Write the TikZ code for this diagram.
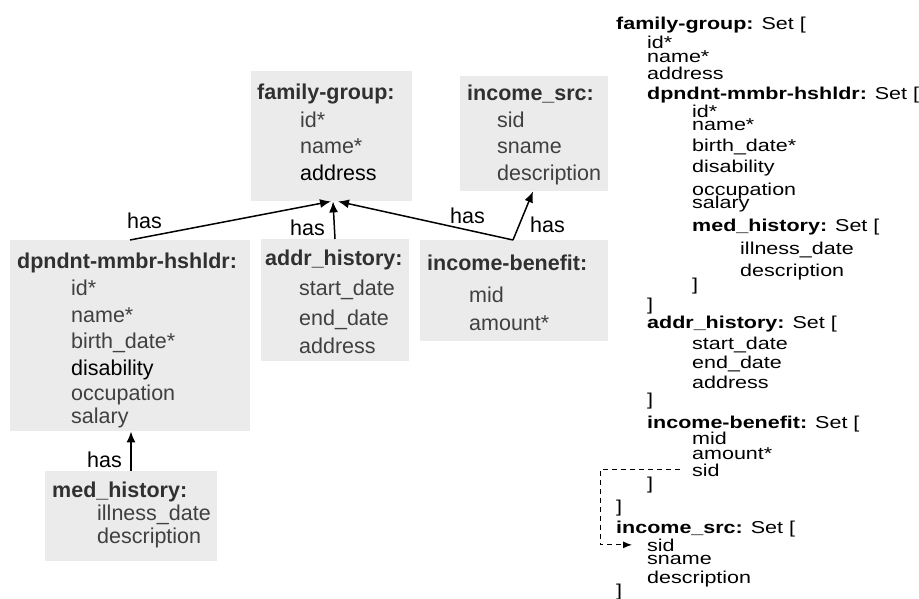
\documentclass[tikz,border=0pt]{standalone}
\usepackage{fontspec}
\setmainfont{Liberation Sans}
\usetikzlibrary{arrows.meta}
\definecolor{boxgray}{HTML}{EBEBEB}
\definecolor{attrgray}{HTML}{404040}
\definecolor{titlegray}{HTML}{303030}
% listing lines are set a little flatter than the diagram text
\newcommand{\sq}[1]{\scalebox{1}[0.8]{#1}}
\begin{document}
\begin{tikzpicture}[x=1pt,y=-1pt,
  ent/.style={fill=boxgray, draw=none, anchor=north west, inner sep=0pt},
  etitle/.style={anchor=base west, inner sep=0pt, font=\fontsize{21.5}{24}\selectfont\bfseries, text=titlegray},
  attr/.style={anchor=base west, inner sep=0pt, font=\fontsize{21.5}{24}\selectfont, text=attrgray},
  attrk/.style={attr, text=black},
  lbl/.style={anchor=base west, inner sep=0pt, font=\fontsize{21.5}{24}\selectfont, text=black},
  lst/.style={anchor=base west, inner sep=0pt, font=\fontsize{21.5}{24}\selectfont, text=black},
  rel/.style={draw=black, line width=1.5pt, -{Latex[length=11pt,width=9pt]}},
  ref/.style={draw=black, line width=1pt, dash pattern=on 5pt off 4pt, -{Latex[length=9pt,width=7pt]}},
]
\useasboundingbox (0,0) rectangle (919,598);

% ---- entity boxes ----
\node[ent, minimum width=161pt, minimum height=130pt] (fg) at (251,71) {};
\node[ent, minimum width=148pt, minimum height=115pt] (is) at (460,76) {};
\node[ent, minimum width=240pt, minimum height=191pt] (dp) at (10,240) {};
\node[ent, minimum width=148pt, minimum height=122pt] (ah) at (261,239) {};
\node[ent, minimum width=188pt, minimum height=101pt] (ib) at (420,240) {};
\node[ent, minimum width=172pt, minimum height=90pt] (mh) at (45,471) {};

% family-group
\node[etitle] (fgt) at (257,99) {family-group:};
\node[attr] (fga) at (300,127) {id*};
\node[attr] (fgb) at (300,153) {name*};
\node[attrk] (fgc) at (300,180) {address};

% income_src
\node[etitle] (ist) at (467,100) {income\_src:};
\node[attr] (isa) at (497,127) {sid};
\node[attr] (isb) at (497,153) {sname};
\node[attr] (isc) at (497,180) {description};

% dpndnt-mmbr-hshldr
\node[etitle] (dpt) at (17,268) {dpndnt-mmbr-hshldr:};
\node[attr] (dpa) at (71,295) {id*};
\node[attr] (dpb) at (71,322) {name*};
\node[attr] (dpc) at (71,348) {birth\_date*};
\node[attrk] (dpd) at (71,375) {disability};
\node[attr] (dpe) at (71,400) {occupation};
\node[attr] (dpf) at (71,423) {salary};

% addr_history
\node[etitle] (aht) at (265,265) {addr\_history:};
\node[attr] (aha) at (299,295) {start\_date};
\node[attr] (ahb) at (299,325) {end\_date};
\node[attr] (ahc) at (299,353) {address};

% income-benefit
\node[etitle] (ibt) at (427,270) {income-benefit:};
\node[attr] (iba) at (469,302) {mid};
\node[attr] (ibb) at (469,330) {amount*};

% med_history
\node[etitle] (mht) at (52,497) {med\_history:};
\node[attr] (mha) at (97,520) {illness\_date};
\node[attr] (mhb) at (97,543) {description};

% ---- relationships ----
\draw[rel] ([xshift=120pt]dp.north west) -- ([xshift=80pt]fg.south west);
\draw[rel] ([xshift=74pt]ah.north west) -- ([xshift=82pt]fg.south west);
\draw[rel] ([xshift=93pt]ib.north west) -- ([xshift=87pt]fg.south west);
\draw[rel] ([xshift=93pt]ib.north west) -- ([xshift=73pt]is.south west);
\draw[rel] ([xshift=86pt]mh.north west) -- ([xshift=121pt]dp.south west);

\node[lbl] (h1) at (127,228) {has};
\node[lbl] (h2) at (290,235) {has};
\node[lbl] (h3) at (450,223) {has};
\node[lbl] (h4) at (530,232) {has};
\node[lbl] (h5) at (87,467) {has};

% ---- nested listing ----
\node[lst] (r1) at (616,29) {\sq{\textbf{family-group:} Set [}};
\node[lst] (r2) at (647,48) {\sq{id*}};
\node[lst] (r3) at (647,62) {\sq{name*}};
\node[lst] (r4) at (647,79) {\sq{address}};
\node[lst] (r5) at (647,99) {\sq{\textbf{dpndnt-mmbr-hshldr:} Set [}};
\node[lst] (r6) at (692,117) {\sq{id*}};
\node[lst] (r7) at (692,130) {\sq{name*}};
\node[lst] (r8) at (692,151) {\sq{birth\_date*}};
\node[lst] (r9) at (692,172) {\sq{disability}};
\node[lst] (r10) at (692,195) {\sq{occupation}};
\node[lst] (r11) at (692,208) {\sq{salary}};
\node[lst] (r12) at (692,231) {\sq{\textbf{med\_history:} Set [}};
\node[lst] (r13) at (740,254) {\sq{illness\_date}};
\node[lst] (r14) at (740,276) {\sq{description}};
\node[lst] (r15) at (692,290) {\sq{]}};
\node[lst] (r16) at (647,310) {\sq{]}};
\node[lst] (r17) at (647,328) {\sq{\textbf{addr\_history:} Set [}};
\node[lst] (r18) at (692,349) {\sq{start\_date}};
\node[lst] (r19) at (692,368) {\sq{end\_date}};
\node[lst] (r20) at (692,388) {\sq{address}};
\node[lst] (r21) at (647,405) {\sq{]}};
\node[lst] (r22) at (647,428) {\sq{\textbf{income-benefit:} Set [}};
\node[lst] (r23) at (692,444) {\sq{mid}};
\node[lst] (r24) at (692,459) {\sq{amount*}};
\node[lst] (r25) at (692,476) {\sq{sid}};
\node[lst] (r26) at (647,489) {\sq{]}};
\node[lst] (r27) at (616,512) {\sq{]}};
\node[lst] (r28) at (616,533) {\sq{\textbf{income\_src:} Set [}};
\node[lst] (r29) at (647,551) {\sq{sid}};
\node[lst] (r30) at (647,564) {\sq{sname}};
\node[lst] (r31) at (647,583) {\sq{description}};
\node[lst] (r32) at (616,596) {\sq{]}};

% foreign key: income-benefit.sid refers to income_src.sid
\draw[ref] ([xshift=-12pt]r25.west) -- ++(-80,0) |- ([xshift=-15pt]r29.west);
\end{tikzpicture}
\end{document}
